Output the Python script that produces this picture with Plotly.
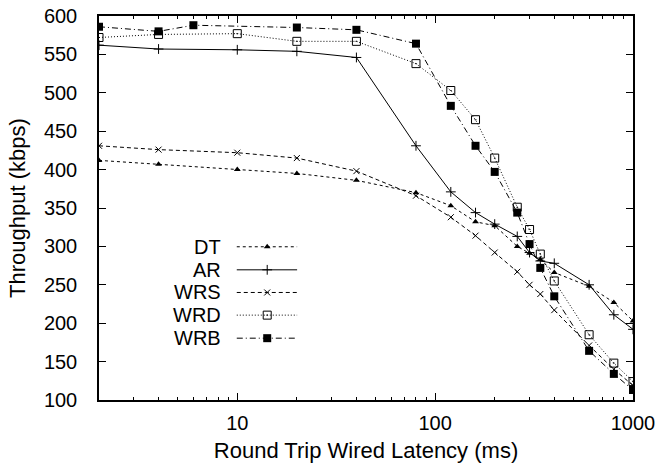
import plotly.graph_objects as go

# ---- data ----
x_dt = [2, 4, 10, 20, 40, 80, 120, 160, 200, 260, 300, 340, 400, 600, 800, 1000]
y_dt = [412, 407, 400, 395, 386, 370, 353, 332, 327, 300, 291, 283, 266, 248, 227, 203]

x_ar = [2, 4, 10, 20, 40, 80, 120, 160, 200, 260, 300, 340, 400, 600, 800, 1000]
y_ar = [562, 557, 556, 554, 546, 431, 371, 344, 329, 313, 292, 281, 278, 250, 211, 192]

x_wrs = [2, 4, 10, 20, 40, 80, 120, 160, 200, 260, 300, 340, 400, 600, 800, 1000]
y_wrs = [431, 426, 422, 415, 398, 366, 338, 314, 292, 267, 250, 238, 217, 171, 140, 119]

x_wrd = [2, 4, 10, 20, 40, 80, 120, 160, 200, 260, 300, 340, 400, 600, 800, 1000]
y_wrd = [572, 576, 577, 567, 567, 538, 503, 465, 415, 351, 322, 290, 255, 185, 148, 124]

x_wrb = [2, 4, 6, 20, 40, 80, 120, 160, 200, 260, 300, 340, 400, 600, 800, 1000]
y_wrb = [586, 580, 588, 585, 582, 564, 483, 431, 397, 344, 303, 272, 235, 164, 134, 113]

names = ["DT", "AR", "WRS", "WRD", "WRB"]
x_major = [10, 100, 1000]
x_minor = [2, 3, 4, 5, 6, 7, 8, 9, 20, 30, 40, 50, 60, 70, 80, 90,
           200, 300, 400, 500, 600, 700, 800, 900]

FONT = "Liberation Sans, Arial, sans-serif"

styles = {
    "DT": dict(dash="dot", symbol="triangle-up", size=6, mlw=0),
    "AR": dict(dash="solid", symbol="cross-thin", size=7, mlw=1),
    "WRS": dict(dash="4px,3px", symbol="x-thin", size=6, mlw=1),
    "WRD": dict(dash="1px,2px", symbol="square-open-dot", size=8, mlw=1),
    "WRB": dict(dash="6px,3px,1px,3px", symbol="square", size=8, mlw=0),
}
series = {"DT": (x_dt, y_dt), "AR": (x_ar, y_ar), "WRS": (x_wrs, y_wrs),
          "WRD": (x_wrd, y_wrd), "WRB": (x_wrb, y_wrb)}

fig = go.Figure()
for n in names:
    s = styles[n]
    xs, ys = series[n]
    fig.add_trace(go.Scatter(
        x=xs, y=ys, mode="lines+markers", name=n, showlegend=False,
        line=dict(color="black", width=1, dash=s["dash"]),
        marker=dict(symbol=s["symbol"], size=s["size"], color="black",
                    line=dict(color="black", width=s["mlw"])),
    ))

# custom legend (text left, sample right) on an overlay axis
leg_y = [0.399, 0.339, 0.280, 0.221, 0.161]
for n, ly in zip(names, leg_y):
    s = styles[n]
    fig.add_trace(go.Scatter(
        x=[0.258, 0.371], y=[ly, ly], mode="lines", xaxis="x2", yaxis="y2",
        showlegend=False, hoverinfo="skip",
        line=dict(color="black", width=1, dash=s["dash"])))
    fig.add_trace(go.Scatter(
        x=[0.315], y=[ly], mode="markers", xaxis="x2", yaxis="y2",
        showlegend=False, hoverinfo="skip",
        marker=dict(symbol=s["symbol"], size=s["size"], color="black",
                    line=dict(color="black", width=s["mlw"]))))
    fig.add_annotation(x=0.232, y=ly, xref="x2", yref="y2", text=n,
                       showarrow=False, xanchor="right", yanchor="middle",
                       font=dict(family=FONT, size=20, color="black"))

fig.update_layout(
    width=670, height=470,
    margin=dict(l=99, r=37, t=16, b=70, autoexpand=False),
    paper_bgcolor="white", plot_bgcolor="white",
    font=dict(family=FONT, color="black"),
    xaxis=dict(
        type="log", range=[0.30103, 3], tickvals=x_major,
        ticktext=[str(v) for v in x_major],
        ticks="inside", ticklen=7, tickwidth=1, tickcolor="black",
        showline=True, linecolor="black", linewidth=1.5, mirror="ticks",
        showgrid=False, zeroline=False, automargin=False,
        tickfont=dict(family=FONT, size=20),
        ticklabelstandoff=4,
        minor=dict(tickmode="array", tickvals=x_minor, ticks="inside",
                   ticklen=3, tickcolor="black", showgrid=False),
        title=dict(text="Round Trip Wired Latency (ms)",
                   font=dict(family=FONT, size=22), standoff=10),
    ),
    yaxis=dict(
        range=[100, 600], dtick=50, tick0=100,
        ticks="inside", ticklen=7, tickwidth=1, tickcolor="black",
        showline=True, linecolor="black", linewidth=1.5, mirror="ticks",
        showgrid=False, zeroline=False, automargin=False,
        tickfont=dict(family=FONT, size=20),
        ticklabelstandoff=16,
        title=dict(text="Throughput (kbps)",
                   font=dict(family=FONT, size=22), standoff=12),
    ),
    xaxis2=dict(overlaying="x", anchor="y2", range=[0, 1], visible=False),
    yaxis2=dict(overlaying="y", anchor="x2", range=[0, 1], visible=False),
)

fig.write_html("out.html")
